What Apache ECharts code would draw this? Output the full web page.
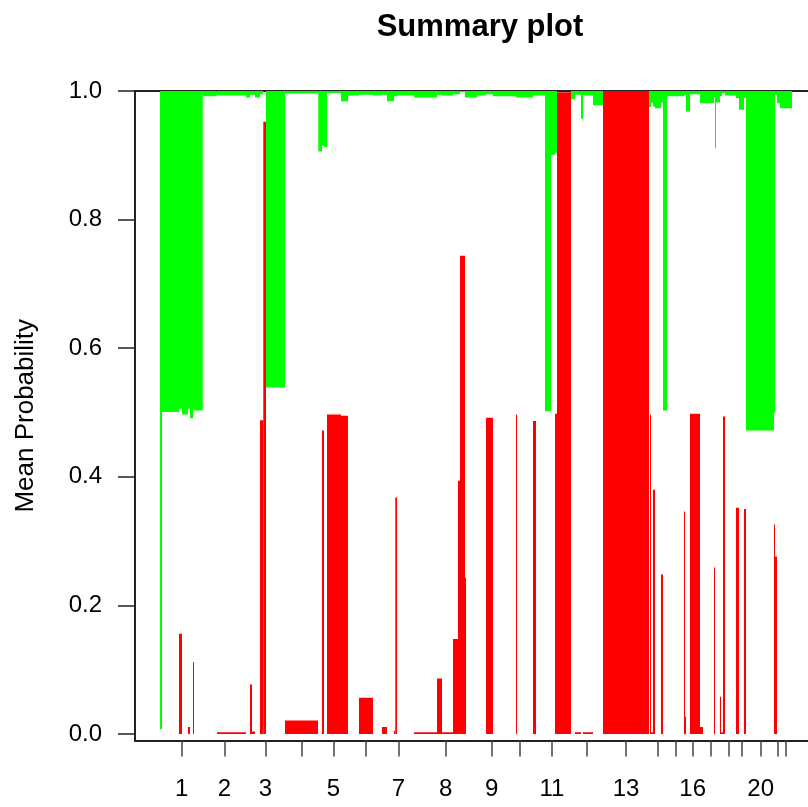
<!DOCTYPE html>
<html>
<head>
<meta charset="utf-8">
<script src="https://cdn.jsdelivr.net/npm/echarts@6/dist/echarts.min.js"></script>
<style>html,body{margin:0;padding:0;background:#fff;}#c{width:808px;height:807px;}</style>
</head>
<body>
<div id="c"></div>
<script>
// Each segment: [start position, end position, probability level]
// Green: probability mass hanging from 1.0 down to the level
var greenSegments = [
  [25,27,0.008],[27,44,0.501],[44,47,0.506],[47,53,0.497],[53,55,0.506],[55,58,0.491],[58,59,0.506],[59,67.7,0.503],
  [67.7,81.7,0.992],[81.7,111,0.993],[111,115,0.990],[115,120,0.994],[120,125,0.990],[125,128.3,0.995],
  [131,150,0.539],[150,183.3,0.996],[183.3,187,0.906],[187,189,0.915],[189,192,0.913],[192,206,0.997],
  [206,213,0.984],[213,224,0.993],[224,238,0.994],[238,247,0.993],[247,252,0.994],[252,259,0.984],
  [259,262,0.992],[262,279,0.993],[279,302,0.990],[302,307,0.994],[307,318,0.993],[318,325,0.995],
  [325,330,0.998],[330,342,0.990],[342,351,0.993],[351,358,0.995],[358,381,0.992],[381,398,0.990],
  [398,410,0.993],[410,416,0.502],[416,420,0.901],[420,422,0.904],
  [436,440,0.987],[440,446,0.994],[446,448,0.957],[448,458,0.993],[458,468,0.978],
  [514,516,0.975],[516,518,0.982],[518,520,0.976],[520,526,0.973],[526,528,0.982],[528,532,0.503],
  [532,549,0.992],[549,551,0.994],[551,555,0.968],[555,565,0.995],[565,579,0.981],[579,580,0.990],
  [580,581,0.911],[581,585,0.982],[585,587,0.992],[587,590,0.997],[590,601,0.993],[601,604,0.989],
  [604,609,0.971],[609,611,0.989],[611,639,0.472],[639,640,0.500],[640,642,0.994],[642,645,0.981],
  [645,657,0.973]
];
// Red: probability mass rising from 0 up to the level
var redSegments = [
  [44,47,0.156],[53,55,0.011],[58,59,0.112],[82,111,0.003],[115,117,0.077],[117,120,0.004],
  [125,128.3,0.488],[128.3,131,0.952],[150,183,0.021],[187,189,0.472],[192,206,0.497],[206,213,0.495],
  [224,238,0.0565],[247,252,0.011],[259,260.3,0.005],[260.3,262,0.368],[279,302,0.003],[302,307,0.0865],
  [307,318,0.003],[318,323,0.148],[323,325,0.394],[325,330,0.744],[330,331,0.243],[351,358,0.492],
  [381,382,0.497],[398,401,0.487],[420,422,0.498],[422,436,0.998],[440,446,0.003],[448,458,0.003],
  [468,514,1.0],[515,516,0.497],[516,518,0.003],[518,520,0.380],[526,528,0.248],[549,550,0.346],
  [550,551,0.027],[555,565,0.498],[565,568,0.011],[579,580,0.259],[585,586,0.058],[586,588,0.003],
  [588,590,0.494],[601,604,0.352],[609,611,0.350],[639,640,0.326],[640,642,0.276]
];
// Chromosome tick positions and labels
var chromPos = [46.7,89.5,130.5,167,198.3,230.3,263.3,310.7,356.7,384.7,417,451.7,491,523,540.7,557.7,575.7,593.7,606.3,625.7,642.3,651];
var chromNames = ['1','2','3','4','5','6','7','8','9','10','11','12','13','14','15','16','17','18','19','20','21','22'];
var shownChrom = ['1','2','3','5','7','8','9','11','13','16','20'];
var yTicks = [0,0.2,0.4,0.6,0.8,1.0];
</script>
<script>
var greenData = greenSegments.map(function (s) { return [s[0], s[1], s[2], 1.0]; });
var redData = redSegments.map(function (s) { return [s[0], s[1], 0, s[2]]; });
var labelPos = [];
var labelMap = {};
for (var k = 0; k < chromPos.length; k++) {
  if (shownChrom.indexOf(chromNames[k]) >= 0) { labelPos.push(chromPos[k]); labelMap[chromPos[k]] = chromNames[k]; }
}
function makeRender(color) {
  return function (params, api) {
    var p0 = api.coord([api.value(0), api.value(3)]);
    var p1 = api.coord([api.value(1), api.value(2)]);
    return {type: 'rect', shape: {x: p0[0], y: p0[1], width: p1[0] - p0[0], height: p1[1] - p0[1]},
      style: {fill: color, stroke: null}};
  };
}
var font = 'Liberation Sans';
var chart = echarts.init(document.getElementById('c'), null, {renderer: 'canvas'});
chart.setOption({
  animation: false,
  backgroundColor: '#ffffff',
  title: {text: 'Summary plot', left: 475, top: 7, textAlign: 'center',
    textStyle: {fontFamily: font, fontWeight: 'bold', fontSize: 31, color: '#000'}},
  grid: {left: 135, right: 0, top: 91, bottom: 66.5},
  xAxis: [{
    type: 'value', min: 0, max: 673, position: 'bottom',
    axisLine: {show: true, onZero: false, lineStyle: {color: '#222', width: 2}},
    axisTick: {show: true, customValues: chromPos, length: 16, lineStyle: {color: '#444', width: 1.5}},
    axisLabel: {show: true, customValues: labelPos, margin: 37, fontFamily: font, fontSize: 24, color: '#000',
      formatter: function (v) { return labelMap[v] || ''; }},
    splitLine: {show: false}
  }, {
    type: 'value', min: 0, max: 673, position: 'top',
    axisLine: {show: true, onZero: false, lineStyle: {color: '#222', width: 2}},
    axisTick: {show: false}, axisLabel: {show: false}, splitLine: {show: false}
  }],
  yAxis: {
    type: 'value', min: -0.01, max: 1.0,
    name: 'Mean Probability', nameLocation: 'middle', nameGap: 96,
    nameTextStyle: {fontFamily: font, fontSize: 26, color: '#000'},
    axisLine: {show: true, onZero: false, lineStyle: {color: '#222', width: 2}},
    axisTick: {show: true, customValues: yTicks, length: 17, lineStyle: {color: '#222', width: 1.5}},
    axisLabel: {show: true, customValues: yTicks, margin: 33, fontFamily: font, fontSize: 24, color: '#000',
      formatter: function (v) { return v.toFixed(1); }},
    splitLine: {show: false}
  },
  series: [{
    type: 'custom', name: 'green', renderItem: makeRender('#00FF00'), data: greenData,
    encode: {x: [0, 1], y: [2, 3]}, clip: true, xAxisIndex: 0
  }, {
    type: 'custom', name: 'red', renderItem: makeRender('#FF0000'), data: redData,
    encode: {x: [0, 1], y: [2, 3]}, clip: true, xAxisIndex: 0
  }]
});
</script>
</body>
</html>
